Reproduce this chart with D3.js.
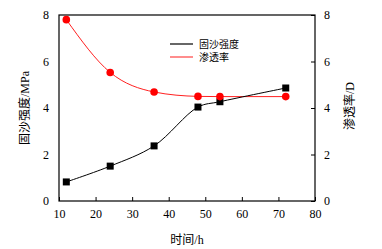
<!DOCTYPE html>
<html>
<head>
<meta charset="utf-8">
<script src="https://cdn.jsdelivr.net/npm/d3@7"></script>
<style>
  body { margin: 0; background: #fff; }
  text { font-family: "Liberation Serif", "Noto Sans CJK SC", serif; }
</style>
</head>
<body>
<div id="chart"></div>
<script>
// 数据
const hours = [12, 24, 36, 48, 54, 72];
const strength = [0.82, 1.5, 2.37, 4.04, 4.27, 4.86];
const permeability = [7.8, 5.53, 4.69, 4.5, 4.49, 4.49];
const xTicks = [10, 20, 30, 40, 50, 60, 70, 80];
const yTicks = [0, 2, 4, 6, 8];
const seriesNames = ["固沙强度", "渗透率"];

const width = 382, height = 249;
const margin = { top: 15, right: 67, bottom: 48, left: 59 };
const w = width - margin.left - margin.right,
      h = height - margin.top - margin.bottom;

const svg = d3.select("#chart").append("svg")
    .attr("width", width)
    .attr("height", height);

const g = svg.append("g").attr("transform", `translate(${margin.left},${margin.top})`);

const x = d3.scaleLinear().domain([10, 80]).range([0, w]);
const yL = d3.scaleLinear().domain([0, 8]).range([h, 0]);
const yR = d3.scaleLinear().domain([0, 8]).range([h, 0]);

// 坐标轴
const fs = "12px";
g.append("g")
    .attr("transform", `translate(0,${h})`)
    .call(d3.axisBottom(x).tickValues(xTicks).tickSizeInner(-4).tickSizeOuter(0).tickPadding(8))
    .call(a => a.select(".domain").remove())
    .style("font-size", fs);

g.append("g")
    .call(d3.axisLeft(yL).tickValues(yTicks).tickSize(0).tickPadding(10))
    .call(a => a.select(".domain").remove())
    .style("font-size", fs);

g.append("g")
    .attr("transform", `translate(${w},0)`)
    .call(d3.axisRight(yR).tickValues(yTicks).tickSizeInner(-4).tickSizeOuter(0).tickPadding(9))
    .call(a => a.select(".domain").remove())
    .style("font-size", fs);

g.selectAll(".tick text").attr("fill", "#000");

g.append("rect")
    .attr("width", w).attr("height", h)
    .attr("fill", "none").attr("stroke", "#000").attr("stroke-width", 1.2);

// 曲线
const blackData = hours.map((t, i) => [t, strength[i]]);
const redData = hours.map((t, i) => [t, permeability[i]]);

g.append("path")
    .datum(redData)
    .attr("fill", "none").attr("stroke", "#ff2020").attr("stroke-width", 1)
    .attr("d", d3.line().x(d => x(d[0])).y(d => yR(d[1])).curve(d3.curveMonotoneX));

g.append("path")
    .datum(blackData)
    .attr("fill", "none").attr("stroke", "#000").attr("stroke-width", 1)
    .attr("d", d3.line().x(d => x(d[0])).y(d => yL(d[1])).curve(d3.curveCatmullRom));

g.selectAll(".sq")
    .data(blackData)
    .enter().append("rect")
    .attr("x", d => x(d[0]) - 3.5)
    .attr("y", d => yL(d[1]) - 3.5)
    .attr("width", 7).attr("height", 7)
    .attr("fill", "#000");

g.selectAll(".dot")
    .data(redData)
    .enter().append("circle")
    .attr("cx", d => x(d[0]))
    .attr("cy", d => yR(d[1]))
    .attr("r", 3.8)
    .attr("fill", "#ff0000");

// 图例
const legend = svg.append("g").attr("transform", "translate(170,44)");
[["#000", 0], ["#ff4040", 13]].forEach(([c, dy], i) => {
    legend.append("line")
        .attr("x1", 0).attr("x2", 23).attr("y1", dy).attr("y2", dy)
        .attr("stroke", c).attr("stroke-width", 1.2);
    legend.append("text")
        .attr("x", 29).attr("y", dy + 4)
        .style("font-size", "10px")
        .text(seriesNames[i]);
});

// 轴标题
svg.append("text")
    .attr("x", margin.left + w / 2).attr("y", 244)
    .attr("text-anchor", "middle")
    .style("font-size", "12px")
    .text("时间/h");

svg.append("text")
    .attr("transform", `translate(29,${margin.top + h / 2}) rotate(-90)`)
    .attr("text-anchor", "middle")
    .style("font-size", "12px")
    .text("固沙强度/MPa");

svg.append("text")
    .attr("transform", `translate(354,${margin.top + h / 2 - 2}) rotate(-90)`)
    .attr("text-anchor", "middle")
    .style("font-size", "12px")
    .text("渗透率/D");
</script>
</body>
</html>
